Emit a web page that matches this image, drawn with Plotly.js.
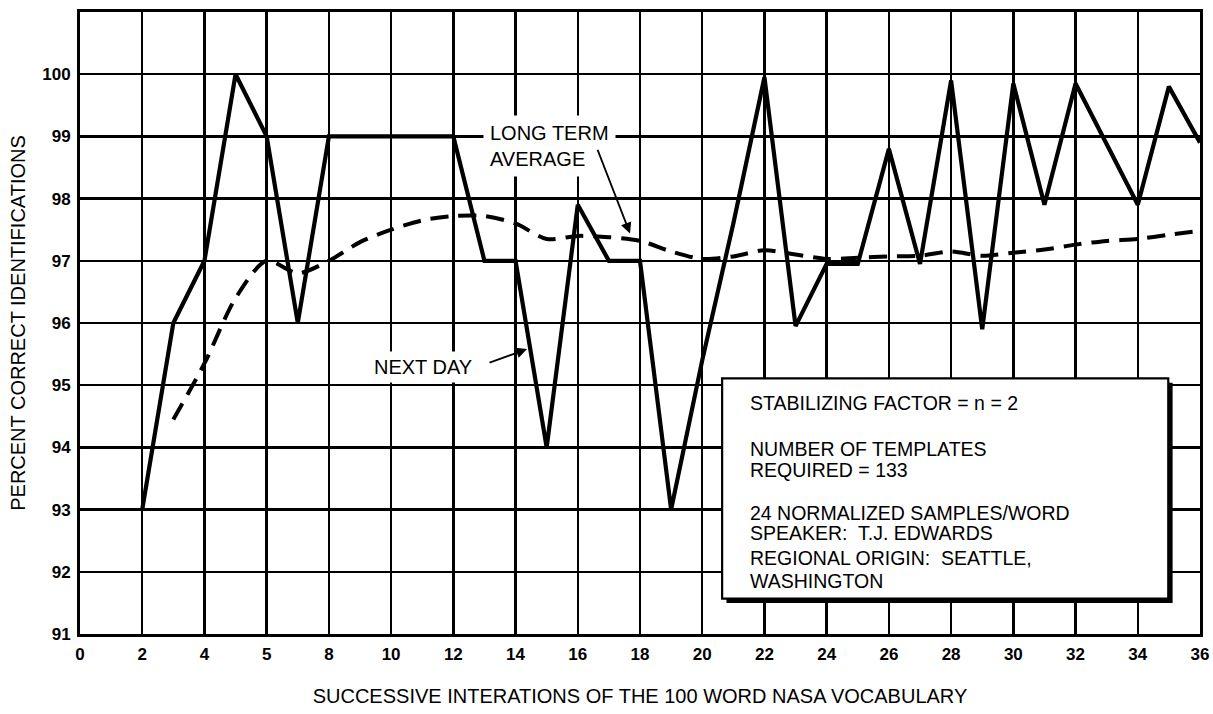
<!DOCTYPE html>
<html>
<head>
<meta charset="utf-8">
<script src="https://cdn.plot.ly/plotly-3.0.1.min.js"></script>
<style>
  html, body { margin: 0; padding: 0; background: #fff; }
  #chart { width: 1213px; height: 714px; }
</style>
</head>
<body>
<div id="chart"></div>
<script>
// Solid line: "NEXT DAY" percent correct per iteration
const nextDayX = [2, 3, 4, 5, 6, 7, 8, 9, 10, 11, 12, 13, 14, 15, 16, 17, 18, 19, 20, 21, 22, 23, 24, 25, 26, 27, 28, 29, 30, 31, 32, 34, 35, 36];
const nextDayY = [93, 96, 97, 100, 99, 96, 99, 99, 99, 99, 99, 97, 97, 94, 97.9, 97, 97, 93, 95.4, 97.6, 99.95, 95.95, 96.95, 96.95, 98.8, 96.95, 99.9, 95.9, 99.85, 97.9, 99.85, 97.9, 99.8, 98.9];

// Dashed line: "LONG TERM AVERAGE"
const avgX = [3, 4, 5, 6, 7, 8, 9, 10, 11, 12, 13, 14, 15, 16, 17, 18, 19, 20, 21, 22, 23, 24, 25, 26, 27, 28, 29, 30, 31, 32, 33, 34, 35, 36];
const avgY = [94.45, 95.35, 96.4, 97.0, 96.8, 97.0, 97.3, 97.5, 97.65, 97.72, 97.72, 97.6, 97.35, 97.4, 97.38, 97.32, 97.15, 97.03, 97.07, 97.17, 97.1, 97.03, 97.05, 97.07, 97.08, 97.15, 97.08, 97.13, 97.18, 97.26, 97.32, 97.35, 97.42, 97.48];

// Tick labels (as printed on the original, including the "5" at the 6 position)
const xTickVals = [0, 2, 4, 6, 8, 10, 12, 14, 16, 18, 20, 22, 24, 26, 28, 30, 32, 34, 36];
const xTickText = ['0', '2', '4', '5', '8', '10', '12', '14', '16', '18', '20', '22', '24', '26', '28', '30', '32', '34', '36'];
const yTickVals = [91, 92, 93, 94, 95, 96, 97, 98, 99, 100];
const yTickText = ['91', '92', '93', '94', '95', '96', '97', '98', '99', '100'];

// Text in the box
const boxLines = [
  'STABILIZING FACTOR = n = 2',
  'NUMBER OF TEMPLATES',
  'REQUIRED = 133',
  '24 NORMALIZED SAMPLES/WORD',
  'SPEAKER:  T.J. EDWARDS',
  'REGIONAL ORIGIN:  SEATTLE,',
  'WASHINGTON'
];
const boxLineY = [94.72, 93.98, 93.64, 92.95, 92.62, 92.22, 91.86];

const FONT = '"Liberation Sans", Arial, Helvetica, sans-serif';

const traces = [
  {
    x: nextDayX, y: nextDayY, type: 'scatter', mode: 'lines', name: 'NEXT DAY',
    line: { color: '#000', width: 4.2, shape: 'linear' },
    hoverinfo: 'x+y'
  },
  {
    x: avgX, y: avgY, type: 'scatter', mode: 'lines', name: 'LONG TERM AVERAGE',
    line: { color: '#000', width: 4, dash: '18px,10px', shape: 'spline', smoothing: 0.8 },
    hoverinfo: 'x+y'
  }
];

const annotations = [
  // LONG TERM AVERAGE label
  {
    x: 12.95, y: 98.85, xref: 'x', yref: 'y', xanchor: 'left', yanchor: 'middle',
    text: 'LONG TERM<br>AVERAGE', align: 'left', showarrow: false,
    font: { family: FONT, size: 20, color: '#000' },
    bgcolor: '#fff', borderpad: 6
  },
  {
    x: 17.68, y: 97.44, ax: -33, ay: -85, xref: 'x', yref: 'y', axref: 'pixel', ayref: 'pixel',
    text: '', showarrow: true, arrowhead: 2, arrowsize: 1.2, arrowwidth: 1.8, arrowcolor: '#000'
  },
  // NEXT DAY label
  {
    x: 9.3, y: 95.3, xref: 'x', yref: 'y', xanchor: 'left', yanchor: 'middle',
    text: 'NEXT DAY', showarrow: false,
    font: { family: FONT, size: 20, color: '#000' },
    bgcolor: '#fff', borderpad: 4
  },
  {
    x: 14.37, y: 95.58, ax: -39, ay: 14, xref: 'x', yref: 'y', axref: 'pixel', ayref: 'pixel',
    text: '', showarrow: true, arrowhead: 2, arrowsize: 1.2, arrowwidth: 1.8, arrowcolor: '#000'
  }
];

boxLines.forEach(function (t, i) {
  annotations.push({
    x: 21.47, y: boxLineY[i], xref: 'x', yref: 'y', xanchor: 'left', yanchor: 'middle',
    text: t, showarrow: false, align: 'left',
    font: { family: FONT, size: 19.5, color: '#000' }
  });
});

const shapes = [
  // drop shadow of the info box
  { type: 'rect', xref: 'x', yref: 'y', x0: 20.78, x1: 35.12, y0: 91.5, y1: 95.04,
    fillcolor: '#000', line: { width: 0 }, layer: 'above' },
  // info box
  { type: 'rect', xref: 'x', yref: 'y', x0: 20.64, x1: 34.98, y0: 91.57, y1: 95.11,
    fillcolor: '#fff', line: { color: '#000', width: 2.2 }, layer: 'above' }
];

const layout = {
  width: 1213, height: 714,
  margin: { l: 80, r: 13, t: 12, b: 80, pad: 0 },
  paper_bgcolor: '#fff', plot_bgcolor: '#fff',
  showlegend: false,
  font: { family: FONT, color: '#000' },
  xaxis: {
    range: [0, 36], tickvals: xTickVals, ticktext: xTickText,
    showgrid: true, gridcolor: '#000', gridwidth: 2.5,
    zeroline: false, showline: true, mirror: true, linecolor: '#000', linewidth: 3,
    ticks: '', ticklabelstandoff: 3,
    tickfont: { family: FONT, size: 17, color: '#000', weight: 'bold' },
    title: { text: 'SUCCESSIVE INTERATIONS OF THE 100 WORD NASA VOCABULARY',
             font: { family: FONT, size: 20, color: '#000' }, standoff: 26 },
    fixedrange: true
  },
  yaxis: {
    range: [91, 101], tickvals: yTickVals, ticktext: yTickText,
    showgrid: true, gridcolor: '#000', gridwidth: 2.5,
    zeroline: false, showline: true, mirror: true, linecolor: '#000', linewidth: 3,
    ticks: '', ticklabelstandoff: 3,
    tickfont: { family: FONT, size: 17, color: '#000', weight: 'bold' },
    title: { text: 'PERCENT CORRECT IDENTIFICATIONS',
             font: { family: FONT, size: 20, color: '#000' }, standoff: 12 },
    fixedrange: true
  },
  annotations: annotations,
  shapes: shapes
};

Plotly.newPlot('chart', traces, layout, { displayModeBar: false, staticPlot: true });
</script>
</body>
</html>
